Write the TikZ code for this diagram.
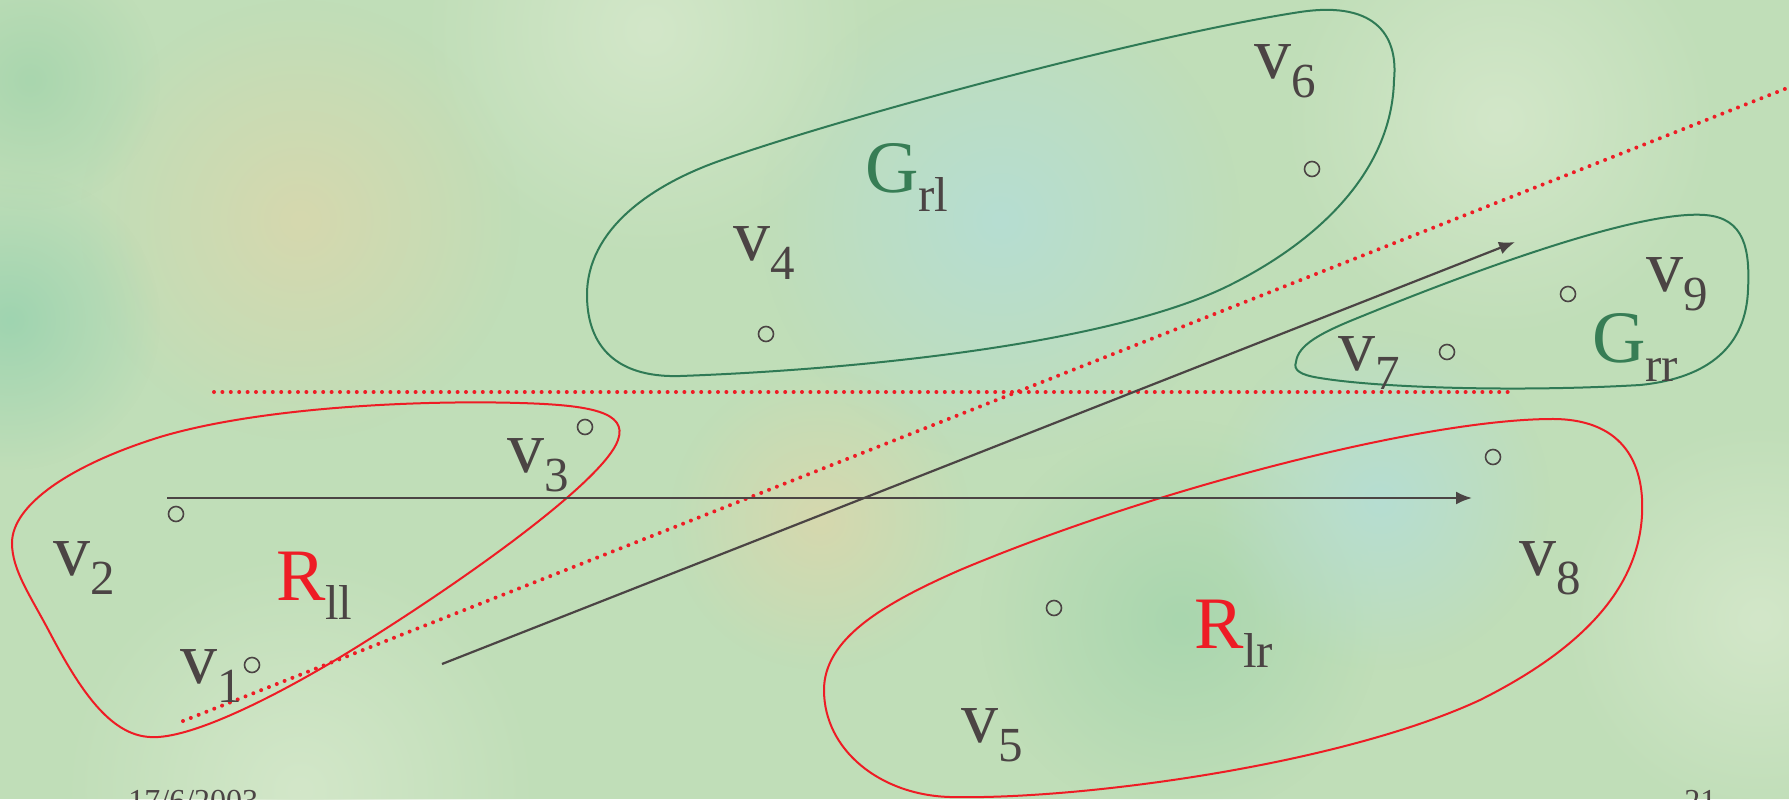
\documentclass[tikz,border=0pt]{standalone}
\usepackage{fontspec}
\setmainfont{Liberation Serif}
\usetikzlibrary{arrows.meta,fadings}
\definecolor{bgbase}{HTML}{C0DEB8}
\definecolor{txtgrey}{HTML}{4B4444}
\definecolor{grpred}{HTML}{EE1C25}
\definecolor{grpgreen}{HTML}{2F7A55}
\definecolor{lblgreen}{HTML}{377D55}
\definecolor{bgwarm}{HTML}{D6D8AE}
\definecolor{bgdeep}{HTML}{9FD4B0}
\definecolor{bgblue}{HTML}{B6DDD2}
\definecolor{bglight}{HTML}{D3E7C9}
\definecolor{bggreen}{HTML}{A9D6AE}
\tikzfading[name=softdisc, inner color=transparent!0, outer color=transparent!100]
\newcommand{\subl}[1]{\raisebox{-9.5pt}{\fontsize{24.5pt}{26pt}\selectfont #1}}
\begin{document}
\begin{tikzpicture}[x=0.5pt,y=-0.5pt,
  vlabel/.style={anchor=base west, inner sep=0pt, outer sep=0pt, text=txtgrey,
    font=\fontsize{37pt}{40pt}\selectfont},
  vertex/.style={circle, draw=txtgrey, line width=0.8pt, minimum size=7.5pt, inner sep=0pt},
  redgroup/.style={draw=grpred, line width=1pt},
  greengroup/.style={draw=grpgreen, line width=1pt},
  sweep/.style={draw=txtgrey, line width=1.1pt, -{Latex[length=8pt,width=6.5pt]}},
  redcut/.style={draw=grpred, line width=2pt, line cap=round, dash pattern=on 0pt off 4.2pt},
  pagetext/.style={anchor=base west, inner sep=0pt, text=txtgrey, font=\fontsize{16pt}{18pt}\selectfont},
  patch/.style={path fading=softdisc}
]
\useasboundingbox (0,0) rectangle (1789,799);
\clip (0,0) rectangle (1789,799);
% background
\fill[bgbase] (0,0) rectangle (1789,799);
\fill[bgwarm, patch] (300,220) circle (220);
\fill[bgdeep, patch] (10,320) circle (150);
\fill[bgblue, patch] (1000,220) circle (240);
\fill[bglight, patch] (650,30) circle (230);
\fill[bggreen, patch] (1180,620) circle (200);
\fill[bgblue, patch] (1380,500) circle (170);
\fill[bglight, patch] (300,790) circle (240);
\fill[bglight, patch] (1760,620) circle (200);
\fill[bgwarm, patch] (820,520) circle (150);
\fill[bglight, patch] (1500,120) circle (220);
\fill[bggreen, patch] (30,80) circle (130);

% cut lines
\coordinate (d1s) at (214,392);
\coordinate (d1e) at (1515,392);
\coordinate (d2s) at (183,721);
\coordinate (d2e) at (1800,83);
\draw[redcut] (d1s) -- (d1e);
\draw[redcut] (d2s) -- (d2e);

% groups
\draw[greengroup] (587,295) .. controls (587,230) and (650,185) .. (722,160)
  .. controls (850,115) and (1150,35) .. (1300,12)
  .. controls (1380,0) and (1398,40) .. (1394,80)
  .. controls (1392,170) and (1320,240) .. (1230,285)
  .. controls (1110,345) and (850,370) .. (680,376)
  .. controls (610,378) and (587,340) .. cycle;
\draw[greengroup] (1296,362) .. controls (1298,345) and (1320,333) .. (1360,317)
  .. controls (1480,268) and (1640,210) .. (1705,215)
  .. controls (1745,218) and (1750,250) .. (1748,290)
  .. controls (1746,345) and (1710,378) .. (1640,385)
  .. controls (1520,392) and (1380,388) .. (1320,378)
  .. controls (1300,375) and (1293,370) .. cycle;
\draw[redgroup] (12,543) .. controls (12,505) and (70,465) .. (160,437)
  .. controls (260,407) and (420,400) .. (520,403)
  .. controls (590,405) and (628,412) .. (618,440)
  .. controls (605,478) and (480,570) .. (360,645)
  .. controls (280,695) and (190,740) .. (150,737)
  .. controls (110,735) and (80,690) .. (50,633)
  .. controls (30,595) and (12,570) .. cycle;
\draw[redgroup] (824,690) .. controls (824,640) and (880,605) .. (960,570)
  .. controls (1150,490) and (1420,420) .. (1550,419)
  .. controls (1620,418) and (1645,460) .. (1642,515)
  .. controls (1638,590) and (1580,650) .. (1480,700)
  .. controls (1340,765) and (1080,800) .. (950,797)
  .. controls (880,795) and (824,750) .. cycle;

% sweep arrows
\coordinate (a1s) at (167,498);
\coordinate (a1e) at (1472,498);
\coordinate (a2s) at (442,664);
\coordinate (a2e) at (1515,242);
\draw[sweep] (a1s) -- (a1e);
\draw[sweep] (a2s) -- (a2e);

% vertices
\node[vertex] (c1) at (252,665) {};
\node[vertex] (c2) at (176,514) {};
\node[vertex] (c3) at (585,427) {};
\node[vertex] (c4) at (766,334) {};
\node[vertex] (c5) at (1054,608) {};
\node[vertex] (c6) at (1312,169) {};
\node[vertex] (c7) at (1447,352) {};
\node[vertex] (c8) at (1493,457) {};
\node[vertex] (c9) at (1568,294) {};

% vertex labels
\node[vlabel] (v1) at (180,683) {v\subl{1}};
\node[vlabel] (v2) at (54,575) {v\subl{2}};
\node[vlabel] (v3) at (507,472) {v\subl{3}};
\node[vlabel] (v4) at (733,260) {v\subl{4}};
\node[vlabel] (v5) at (961,742) {v\subl{5}};
\node[vlabel] (v6) at (1254,78) {v\subl{6}};
\node[vlabel] (v7) at (1338,370) {v\subl{7}};
\node[vlabel] (v8) at (1519,575) {v\subl{8}};
\node[vlabel] (v9) at (1646,291) {v\subl{9}};

% group labels
\node[vlabel] (rll) at (276,600) {\textcolor{grpred}{R}\subl{ll}};
\node[vlabel] (rlr) at (1194,648) {\textcolor{grpred}{R}\subl{lr}};
\node[vlabel] (grl) at (865,192) {\textcolor{lblgreen}{G}\subl{rl}};
\node[vlabel] (grr) at (1592,362) {\textcolor{lblgreen}{G}\subl{rr}};

% page texts (cut by the lower edge, as in the slide)
\node[pagetext] (date) at (128,811.6) {17/6/2003};
\node[pagetext] (page) at (1684,811.6) {21};
\end{tikzpicture}
\end{document}
